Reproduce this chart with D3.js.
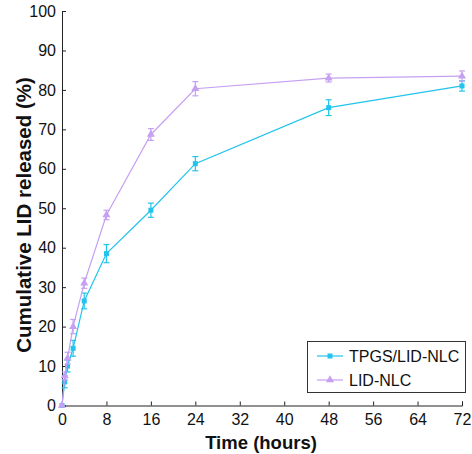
<!DOCTYPE html>
<html><head><meta charset="utf-8">
<script src="https://cdn.jsdelivr.net/npm/d3@7"></script>
<style>body{margin:0;background:#fff;}svg{display:block;font-family:"Liberation Sans",Arial,sans-serif;}</style>
</head><body>
<script>
const times = [0, 0.5, 1, 2, 4, 8, 16, 24, 48, 72];
const tpgsValues = [0, 6, 10, 14.5, 26.5, 38.5, 49.5, 61.3, 75.5, 81];
const tpgsErrors = [0, 1.5, 1.5, 2, 2, 2.3, 1.8, 1.8, 2, 1.3];
const lidValues = [0, 7.5, 12, 20, 31, 48.3, 68.7, 80.3, 83, 83.5];
const lidErrors = [0, 1, 1.5, 1.8, 1.3, 1.2, 1.5, 1.8, 1, 1.3];
const xTicks = [0, 8, 16, 24, 32, 40, 48, 56, 64, 72];
const yTicks = [0, 10, 20, 30, 40, 50, 60, 70, 80, 90, 100];
const seriesNames = ["TPGS/LID-NLC", "LID-NLC"];
const colors = ["#22c3ec", "#c6a0f2"];

const W = 472, H = 454;
const svg = d3.select("body").append("svg").attr("width", W).attr("height", H);
const x = d3.scaleLinear().domain([0, 72]).range([62, 462]);
const y = d3.scaleLinear().domain([0, 100]).range([405.5, 11]);

// axes
const xAxis = svg.append("g").attr("transform", `translate(0,${y(0)})`)
  .call(d3.axisBottom(x).tickValues(xTicks).tickSizeInner(-4).tickSizeOuter(-4).tickPadding(8));
const yAxis = svg.append("g").attr("transform", `translate(${x(0)},0)`)
  .call(d3.axisLeft(y).tickValues(yTicks).tickSizeInner(-4).tickSizeOuter(-4).tickPadding(6));
[xAxis, yAxis].forEach(g => {
  g.selectAll("text").attr("font-size", 16).attr("fill", "#111").attr("font-family", "Liberation Sans, Arial, sans-serif");
  g.selectAll("path,line").attr("stroke", "#222").attr("stroke-width", 1);
});

const series = [
  {name: seriesNames[0], vals: tpgsValues, errs: tpgsErrors, color: colors[0], shape: d3.symbolSquare},
  {name: seriesNames[1], vals: lidValues, errs: lidErrors, color: colors[1], shape: d3.symbolTriangle}
];

series.forEach(s => {
  const pts = times.map((t, i) => ({t, v: s.vals[i], e: s.errs[i]}));
  const g = svg.append("g");
  g.append("path").datum(pts)
    .attr("d", d3.line().x(d => x(d.t)).y(d => y(d.v)))
    .attr("fill", "none").attr("stroke", s.color).attr("stroke-width", 1.2);
  const eb = g.selectAll(".eb").data(pts.filter(d => d.e > 0)).enter().append("g");
  eb.append("line").attr("x1", d => x(d.t)).attr("x2", d => x(d.t))
    .attr("y1", d => y(d.v - d.e)).attr("y2", d => y(d.v + d.e)).attr("stroke", s.color).attr("stroke-width", 1.2);
  [1, -1].forEach(sg => {
    eb.append("line").attr("x1", d => x(d.t) - 3).attr("x2", d => x(d.t) + 3)
      .attr("y1", d => y(d.v + sg * d.e)).attr("y2", d => y(d.v + sg * d.e)).attr("stroke", s.color).attr("stroke-width", 1.2);
  });
  g.selectAll(".mk").data(pts).enter().append("path")
    .attr("d", d3.symbol().type(s.shape).size(s.shape === d3.symbolSquare ? 25 : 28))
    .attr("transform", d => `translate(${x(d.t)},${y(d.v)})`)
    .attr("fill", s.color);
});

// legend
const lg = svg.append("g");
lg.append("rect").attr("x", 307.5).attr("y", 341.5).attr("width", 158).attr("height", 51)
  .attr("fill", "#fff").attr("stroke", "#333").attr("stroke-width", 1);
series.forEach((s, i) => {
  const yy = 356 + i * 24;
  lg.append("line").attr("x1", 317).attr("x2", 343).attr("y1", yy).attr("y2", yy).attr("stroke", s.color).attr("stroke-width", 1.2);
  lg.append("path").attr("d", d3.symbol().type(s.shape).size(s.shape === d3.symbolSquare ? 25 : 28)())
    .attr("transform", `translate(330,${yy})`).attr("fill", s.color);
  lg.append("text").attr("x", 349).attr("y", yy + 6).attr("font-size", 16).attr("fill", "#111").text(s.name);
});

// axis titles
svg.append("text").attr("x", 261).attr("y", 449).attr("text-anchor", "middle")
  .attr("font-size", 18.5).attr("font-weight", "bold").attr("fill", "#111").text("Time (hours)");
svg.append("text").attr("transform", "translate(31,215) rotate(-90)").attr("text-anchor", "middle")
  .attr("font-size", 20.5).attr("font-weight", "bold").attr("fill", "#111").text("Cumulative LID released (%)");
</script>
</body></html>
